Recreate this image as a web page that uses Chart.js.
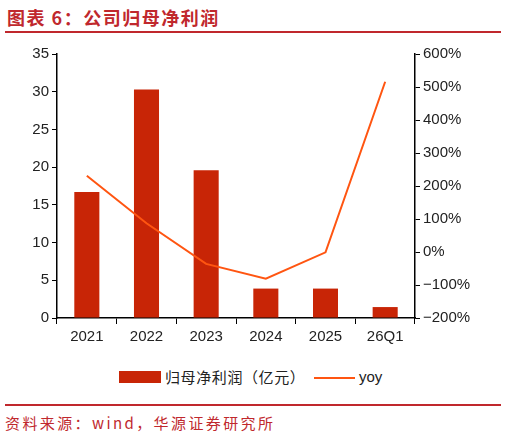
<!DOCTYPE html>
<html>
<head>
<meta charset="utf-8">
<script src="https://cdn.jsdelivr.net/npm/chart.js@4.4.0/dist/chart.umd.min.js"></script>
<style>
  html, body { margin: 0; padding: 0; background: #fff; }
  body { width: 506px; height: 438px; position: relative; overflow: hidden; font-family: "Noto Sans CJK SC", "Liberation Sans", sans-serif; }
  #title { position: absolute; left: 7px; top: 5px; font-size: 18px; font-weight: bold; color: #C0282D; letter-spacing: 1.5px; line-height: 24px; white-space: nowrap; }
  .rule { position: absolute; left: 5px; width: 496px; height: 2px; background: #C0282D; }
  #footer { position: absolute; left: 5px; top: 412px; font-size: 15px; color: #C0282D; letter-spacing: 2.4px; line-height: 22px; white-space: nowrap; }
  #wrap { position: absolute; left: 0; top: 40px; width: 506px; height: 320px; }
  .lg { position: absolute; }
</style>
</head>
<body>
<div id="title">图表 6：公司归母净利润</div>
<div class="rule" style="top:31px"></div>
<div id="wrap"><canvas id="c" width="506" height="320"></canvas></div>
<div class="lg" style="left:119px;top:371px;width:42px;height:12px;background:#C82506;"></div>
<div class="lg" style="left:165px;top:366px;font-size:15px;line-height:22px;color:#222;letter-spacing:0.6px;white-space:nowrap;">归母净利润（亿元）</div>
<div class="lg" style="left:314px;top:377px;width:41px;height:2px;background:#FF5511;"></div>
<div class="lg" style="left:359px;top:367px;font-family:'Liberation Sans',Arial,sans-serif;font-size:15px;line-height:20px;color:#222;">yoy</div>
<div class="rule" style="top:404px"></div>
<div id="footer">资料来源：wind，华源证券研究所</div>
<script>
const categories = ["2021", "2022", "2023", "2024", "2025", "26Q1"];
const profitValues = [16.7, 30.3, 19.6, 3.9, 3.9, 1.45];
const yoyValues = [231, 87, -36, -81, -1, 516];
const leftTicks = [0, 5, 10, 15, 20, 25, 30, 35];
const rightTicks = [-200, -100, 0, 100, 200, 300, 400, 500, 600];

const axisColor = '#000';
const tickFont = { family: "'Liberation Sans', Arial, sans-serif", size: 15 };

new Chart(document.getElementById('c'), {
  data: {
    labels: categories,
    datasets: [
      {
        type: 'line', label: 'yoy', data: yoyValues, yAxisID: 'y1',
        borderColor: '#FF5511', borderWidth: 2, pointRadius: 0, tension: 0, order: 0
      },
      {
        type: 'bar', label: '归母净利润（亿元）', data: profitValues, yAxisID: 'y',
        backgroundColor: '#C82506', borderWidth: 0,
        barPercentage: 0.42, categoryPercentage: 1, order: 1
      }
    ]
  },
  options: {
    responsive: false,
    animation: false,
    layout: { padding: { top: 14, left: 0, right: 0, bottom: 0 } },
    plugins: { legend: { display: false }, tooltip: { enabled: false } },
    scales: {
      x: {
        offset: true,
        grid: { display: true, offset: true, drawOnChartArea: false, drawTicks: true, tickLength: 6, color: axisColor },
        border: { display: true, color: axisColor, width: 1.5 },
        ticks: { color: '#222', font: tickFont, padding: 4, maxRotation: 0 },
        afterFit: s => { s.height = 42; }
      },
      y: {
        position: 'left', min: 0, max: 35,
        afterBuildTicks: s => { s.ticks = leftTicks.map(v => ({ value: v })); },
        grid: { drawOnChartArea: false, drawTicks: true, tickLength: 5, color: axisColor },
        border: { display: true, color: axisColor, width: 1.5 },
        ticks: { color: '#222', font: tickFont, padding: 3 },
        afterFit: s => { s.width = 57; }
      },
      y1: {
        position: 'right', min: -200, max: 600,
        afterBuildTicks: s => { s.ticks = rightTicks.map(v => ({ value: v })); },
        grid: { drawOnChartArea: false, drawTicks: true, tickLength: 5, color: axisColor },
        border: { display: true, color: axisColor, width: 1.5 },
        ticks: { color: '#222', font: tickFont, padding: 3,
          callback: v => (v < 0 ? '\u2212' + Math.abs(v) : v) + '%' },
        afterFit: s => { s.width = 91; }
      }
    }
  }
});
</script>
</body>
</html>
